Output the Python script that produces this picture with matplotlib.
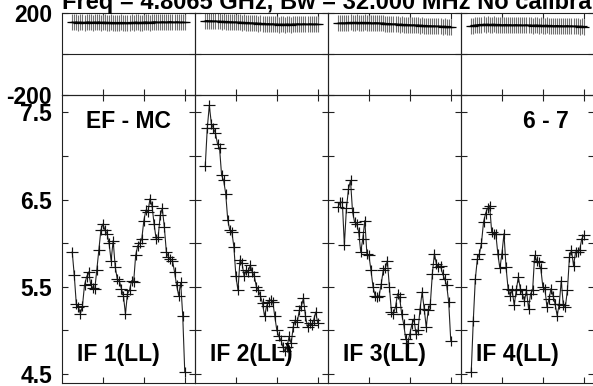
import matplotlib
matplotlib.use("Agg")
import matplotlib.pyplot as plt
from matplotlib.path import Path

plt.rcParams['font.family'] = ['Liberation Sans', 'DejaVu Sans']
plt.rcParams['font.weight'] = 'bold'

# ---------------- data ----------------
channels = list(range(5, 61))

amp_if1 = [5.90, 5.63, 5.30, 5.27, 5.19, 5.28, 5.52, 5.61, 5.67, 5.53, 5.49, 5.47, 5.69, 5.92,
           6.15, 6.22, 6.15, 6.11, 6.00, 5.80, 6.03, 5.73, 5.59, 5.57, 5.48, 5.40, 5.19, 5.42,
           5.46, 5.57, 5.55, 5.86, 5.97, 6.00, 6.05, 6.26, 6.38, 6.36, 6.51, 6.43, 6.22, 6.05,
           6.07, 6.32, 6.40, 6.19, 5.90, 5.84, 5.82, 5.80, 5.67, 5.52, 5.40, 5.55, 5.17, 4.52]
amp_if2 = [6.88, 7.32, 7.58, 7.37, 7.32, 7.26, 7.14, 7.09, 6.78, 6.72, 6.57, 6.27, 6.15, 6.13,
           5.96, 5.62, 5.46, 5.81, 5.77, 5.62, 5.69, 5.67, 5.75, 5.67, 5.62, 5.50, 5.46, 5.39,
           5.31, 5.16, 5.28, 5.33, 5.35, 5.33, 5.16, 5.00, 4.93, 4.89, 4.81, 4.76, 4.81, 4.93,
           4.85, 5.04, 5.12, 5.10, 5.23, 5.28, 5.37, 5.16, 5.04, 5.08, 5.06, 5.12, 5.21, 5.08]
amp_if3 = [6.42, 6.47, 6.47, 5.98, 6.40, 6.62, 6.72, 6.36, 6.24, 6.22, 6.13, 5.90, 6.05, 6.26,
           5.88, 5.86, 5.69, 5.50, 5.40, 5.38, 5.40, 5.53, 5.69, 5.71, 5.80, 5.50, 5.21, 5.19,
           5.27, 5.42, 5.38, 5.19, 5.07, 4.90, 4.86, 4.96, 5.07, 5.13, 4.96, 5.00, 5.25, 5.44,
           5.25, 5.04, 5.23, 5.30, 5.65, 5.88, 5.76, 5.73, 5.74, 5.65, 5.59, 5.52, 5.32, 4.88]
amp_if4 = [4.52, 5.11, 5.59, 5.82, 5.88, 6.00, 6.24, 6.34, 6.40, 6.43, 6.13, 6.11, 6.11, 5.88,
           5.71, 5.88, 6.11, 5.73, 5.48, 5.40, 5.46, 5.29, 5.46, 5.61, 5.48, 5.42, 5.34, 5.46,
           5.25, 5.42, 5.46, 5.86, 5.80, 5.78, 5.71, 5.50, 5.48, 5.27, 5.36, 5.48, 5.40, 5.30,
           5.17, 5.30, 5.57, 5.29, 5.27, 5.46, 5.84, 5.92, 5.74, 5.90, 5.90, 5.92, 6.05, 6.09]

phs_if1 = [156, 155, 157, 154, 156, 155, 153, 156, 157, 155, 154, 156, 155, 157, 154, 155,
           156, 154, 153, 155, 154, 152, 154, 153, 155, 153, 152, 154, 153, 155, 154, 156,
           155, 153, 154, 156, 157, 155, 154, 156, 158, 157, 155, 156, 158, 157, 156, 158,
           159, 157, 156, 158, 157, 155, 156, 155]
phs_if2 = [163, 164, 162, 163, 161, 162, 160, 161, 159, 160, 158, 159, 157, 158, 156, 157,
           155, 156, 154, 155, 153, 154, 152, 153, 151, 152, 150, 151, 149, 150, 148, 149,
           147, 148, 146, 147, 145, 146, 146, 145, 147, 146, 145, 147, 146, 148, 147, 146,
           148, 147, 146, 148, 147, 146, 147, 146]
phs_if3 = [151, 152, 153, 152, 154, 153, 155, 154, 153, 155, 154, 153, 154, 155, 153, 154,
           153, 152, 154, 153, 152, 151, 152, 150, 149, 150, 148, 147, 148, 146, 145, 146,
           144, 145, 143, 144, 142, 143, 141, 142, 140, 141, 139, 140, 138, 139, 137, 138,
           136, 137, 136, 135, 136, 135, 134, 135]
phs_if4 = [138, 140, 142, 143, 145, 144, 146, 145, 146, 144, 145, 146, 145, 144, 145, 143,
           144, 145, 143, 144, 142, 143, 144, 142, 143, 141, 142, 143, 141, 142, 140, 141,
           142, 140, 141, 139, 140, 141, 139, 140, 138, 139, 140, 138, 139, 137, 138, 139,
           137, 138, 136, 137, 136, 135, 136, 135]

amplitudes = [amp_if1, amp_if2, amp_if3, amp_if4]
phases = [phs_if1, phs_if2, phs_if3, phs_if4]
panel_labels = ["IF 1(LL)", "IF 2(LL)", "IF 3(LL)", "IF 4(LL)"]
title_text = "Freq = 4.8065 GHz, Bw = 32.000 MHz No calibration"
source_label = "EF - MC"
baseline_label = "6 - 7"
amp_ticks = [4.5, 5.0, 5.5, 6.0, 6.5, 7.0, 7.5]
amp_ticklabels = ["4.5", "", "5.5", "", "6.5", "", "7.5"]
phs_ticks = [-200, 0, 200]
phs_ticklabels = ["-200", "", "200"]
chan_ticks = [20, 40, 60]

# ---------------- layout ----------------
W, H = 593, 386
fig = plt.figure(figsize=(W / 100, H / 100), dpi=100)

left0, pw = 62, 133
up_top, up_bot = 13.3, 95.0
lo_top, lo_bot = 95.0, 382.7

def frac(x0, ytop, w, ybot):
    return [x0 / W, 1 - ybot / H, w / W, (ybot - ytop) / H]

# markers
cross_lo = Path([(-1, 0), (1, 0), (0, -0.8), (0, 0.8)],
                [Path.MOVETO, Path.LINETO, Path.MOVETO, Path.LINETO])
hbar = Path([(-1, 0), (1, 0)], [Path.MOVETO, Path.LINETO])
vbar = Path([(0, -1), (0, 1)], [Path.MOVETO, Path.LINETO])

FS = 16.5
xlim = (0, 65)

for i in range(4):
    x0 = left0 + i * pw
    axu = fig.add_axes(frac(x0, up_top, pw, up_bot))
    axl = fig.add_axes(frac(x0, lo_top, pw, lo_bot))

    # phase panel
    axu.plot(channels, phases[i], linestyle='none', marker=vbar, markersize=11,
             markeredgecolor='#707070', markeredgewidth=0.8, zorder=2)
    axu.plot(channels, phases[i], color='black', lw=0.9, zorder=3)
    axu.plot(channels, phases[i], linestyle='none', marker=hbar, markersize=7.5,
             markeredgecolor='black', markeredgewidth=0.9, zorder=3)
    axu.axhline(0, color='#222222', lw=0.8)
    axu.set_xlim(*xlim)
    axu.set_ylim(-200, 200)
    axu.set_xticks(chan_ticks)
    axu.set_xticklabels([])
    axu.set_yticks(phs_ticks)
    if i == 0:
        axu.set_yticklabels(phs_ticklabels)
    else:
        axu.set_yticklabels([])

    # amplitude panel
    axl.plot(channels, amplitudes[i], color='#222222', lw=0.8, zorder=2)
    axl.plot(channels, amplitudes[i], linestyle='none', marker=cross_lo, markersize=8.5,
             markeredgecolor='#111111', markeredgewidth=0.85, zorder=3)
    axl.set_xlim(*xlim)
    axl.set_ylim(4.40, 7.70)
    axl.set_xticks(chan_ticks)
    axl.set_xticklabels([])
    axl.set_yticks(amp_ticks)
    if i == 0:
        axl.set_yticklabels(amp_ticklabels)
    else:
        axl.set_yticklabels([])

    for ax in (axu, axl):
        ax.set_facecolor('none')
        for s in ax.spines.values():
            s.set_linewidth(0.8)
            s.set_color('#222222')
        ax.tick_params(axis='both', direction='in', length=4.5, width=0.8,
                       top=True, right=True, bottom=True, left=True,
                       labelsize=FS, pad=7.2, colors='#222222', labelcolor='black')
        for lab in ax.get_yticklabels():
            lab.set_fontweight('bold')

    axl.text(15 / pw, 1 - (361 - lo_top) / (lo_bot - lo_top), panel_labels[i],
             transform=axl.transAxes, fontsize=FS, fontweight='bold', va='baseline', ha='left')

# source and baseline labels
fig.text(86 / W, 1 - 128 / H, source_label, fontsize=FS, fontweight='bold', va='baseline', ha='left')
fig.text(523 / W, 1 - 128 / H, baseline_label, fontsize=FS, fontweight='bold', va='baseline', ha='left')
fig.text(62 / W, 1 - 9.5 / H, title_text, fontsize=17, fontweight='bold', va='baseline', ha='left')

fig.savefig("out.png", dpi=100)
